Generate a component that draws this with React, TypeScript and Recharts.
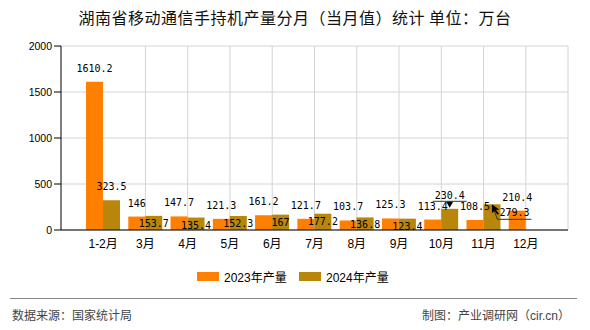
import { BarChart, Bar, XAxis, YAxis, CartesianGrid, LabelList } from 'recharts'

// 湖南省移动通信手持机产量（当月值），单位：万台
const MONTHS = ['1-2月', '3月', '4月', '5月', '6月', '7月', '8月', '9月', '10月', '11月', '12月']
const OUTPUT_2023 = [1610.2, 146, 147.7, 121.3, 161.2, 121.7, 103.7, 125.3, 113.4, 108.5, 210.4]
const OUTPUT_2024: (number | null)[] = [323.5, 153.7, 135.4, 152.3, 167, 177.2, 136.8, 123.4, 230.4, 279.3, null]
const Y_TICKS = [0, 500, 1000, 1500, 2000]

const ORANGE = '#FF8000'
const OLIVE = '#B8860B'
const SANS = '"Liberation Sans", "Noto Sans CJK SC", sans-serif'
const MONO = '"DejaVu Sans Mono", monospace'
const AXIS_PAD = 21

const data = MONTHS.map((month, i) => ({
  month,
  y2023: OUTPUT_2023[i],
  y2024: OUTPUT_2024[i],
}))

// centre x of every 2023 label, filled while the 2023 labels render (they come first)
const orangeCentres: Record<number, number> = {}

const textW = (v: number) => String(v).length * 6

function OrangeLabel(props: any) {
  const { x, y, width, value, index } = props
  if (value == null) return null
  const cx = x + width / 2
  orangeCentres[index] = cx
  return (
    <text x={cx} y={y - 10} textAnchor="middle" fontSize={10} fontFamily={MONO} fill="#000">
      {value}
    </text>
  )
}

function OliveLabel(props: any) {
  const { x, y, width, height, value, index } = props
  if (value == null) return null
  const cx = x + width / 2
  const k = height / value
  const base = y + height
  const orangeMid = base - OUTPUT_2023[index] * k - 14
  const aboveMid = y - 14
  const gap = Math.abs(orangeMid - aboveMid)

  if (gap < 10) {
    // too close to the 2023 label: put it just inside the bar
    return (
      <text x={cx} y={y + 11} textAnchor="middle" fontSize={10} fontFamily={MONO} fill="#000">
        {value}
      </text>
    )
  }

  const next = OUTPUT_2023[index + 1]
  const nextX = orangeCentres[index + 1]
  if (next != null && nextX != null) {
    const nextMid = base - next * k - 14
    const clash = Math.abs(nextX - cx) < (textW(value) + textW(next)) / 2 && Math.abs(nextMid - aboveMid) < 11
    if (clash) {
      // pushed aside, with a leader line back to the bar
      const lx = cx + 22.5
      return (
        <g>
          <polyline
            points={`${cx},${y + 1} ${cx + 5.5},${y + 15} ${cx + 39.5},${y + 15}`}
            fill="none"
            stroke="#333"
            strokeWidth={1}
          />
          <path d={`M${cx},${y} l0,9 l2.5,-2.5 l3,4 l1.5,-1 l-3,-4 l3.5,0 z`} fill="#000" />
          <text x={lx} y={y + 12} textAnchor="middle" fontSize={10} fontFamily={MONO} fill="#000">
            {value}
          </text>
        </g>
      )
    }
  }

  const close = gap < 14
  return (
    <g>
      {close && (
        <>
          <line x1={cx - 17} x2={cx + 17} y1={y - 7.5} y2={y - 7.5} stroke="#333" strokeWidth={1} />
          <path d={`M${cx - 3.5},${y - 7} L${cx + 3.5},${y - 7} L${cx},${y - 1} Z`} fill="#000" />
        </>
      )}
      <text x={cx} y={y - 10} textAnchor="middle" fontSize={10} fontFamily={MONO} fill="#000">
        {value}
      </text>
    </g>
  )
}

// grid lines at 3月..12月 and at the right edge of the plot
function gridX({ offset }: any) {
  const band = (offset.width - AXIS_PAD * 2) / MONTHS.length
  const xs = MONTHS.slice(1).map((_, i) => offset.left + AXIS_PAD + band * (i + 1.5))
  return [...xs, offset.left + offset.width]
}

export default function App() {
  return (
    <div style={{ position: 'absolute', left: 0, top: 0, width: 590, height: 330, background: '#fff', fontFamily: SANS }}>
      <div
        style={{
          position: 'absolute',
          left: 0,
          top: 7,
          width: 590,
          textAlign: 'center',
          fontSize: 16,
          lineHeight: '20px',
          letterSpacing: 0.5,
          color: '#111',
          fontFamily: '"Noto Sans CJK SC", sans-serif',
        }}
      >
        湖南省移动通信手持机产量分月（当月值）统计 单位：万台
      </div>

      <BarChart
        width={590}
        height={330}
        data={data}
        margin={{ top: 46, right: 22, bottom: 70, left: 0 }}
        barSize={17}
        barGap={0}
      >
        <CartesianGrid stroke="#d4d4d4" verticalCoordinatesGenerator={gridX} />
        <XAxis
          dataKey="month"
          height={30}
          padding={{ left: AXIS_PAD, right: AXIS_PAD }}
          axisLine={{ stroke: '#000' }}
          tickLine={false}
          tickSize={0}
          tickMargin={9}
          interval={0}
          tick={{ fontSize: 12, fill: '#000', fontFamily: SANS }}
        />
        <YAxis
          width={61}
          domain={[0, 2000]}
          ticks={Y_TICKS}
          axisLine={{ stroke: '#000' }}
          tickLine={{ stroke: '#000' }}
          tickSize={7}
          tickMargin={2}
          tick={{ fontSize: 10.5, fill: '#000', fontFamily: SANS }}
        />
        <Bar dataKey="y2023" fill={ORANGE} isAnimationActive={false}>
          <LabelList dataKey="y2023" content={(p: any) => <OrangeLabel {...p} />} />
        </Bar>
        <Bar dataKey="y2024" fill={OLIVE} isAnimationActive={false}>
          <LabelList dataKey="y2024" content={(p: any) => <OliveLabel {...p} />} />
        </Bar>
      </BarChart>

      {[
        { left: 197, color: ORANGE, name: '2023年产量' },
        { left: 299, color: OLIVE, name: '2024年产量' },
      ].map((s) => (
        <div key={s.name} style={{ position: 'absolute', left: s.left, top: 268, display: 'flex', alignItems: 'center', height: 17 }}>
          <span style={{ display: 'inline-block', width: 22, height: 9, background: s.color, marginRight: 5 }} />
          <span style={{ fontSize: 12, color: '#000' }}>{s.name}</span>
        </div>
      ))}

      <div style={{ position: 'absolute', left: 10, top: 298, width: 567, height: 1, background: '#888' }} />
      <div style={{ position: 'absolute', left: 12, top: 308, fontSize: 12, lineHeight: '16px', color: '#444' }}>
        数据来源：国家统计局
      </div>
      <div style={{ position: 'absolute', right: 20, top: 308, fontSize: 12, lineHeight: '16px', color: '#444' }}>
        制图：产业调研网（cir.cn）
      </div>
    </div>
  )
}
